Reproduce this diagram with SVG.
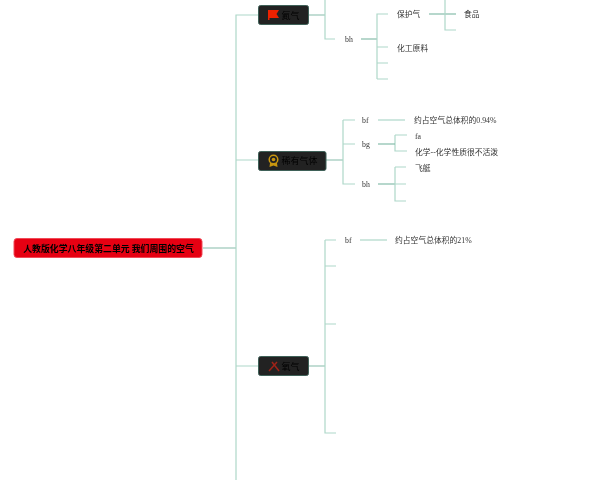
<svg xmlns="http://www.w3.org/2000/svg" width="600" height="480" viewBox="0 0 600 480">
<style>
.c{fill:none;stroke:#aed7c9;stroke-width:1.2}
.d{fill:none;stroke:#86bcaa;stroke-width:1.2}
.n{fill:#222;stroke:#3f6158;stroke-width:1}
text{font-family:"Liberation Serif","Noto Sans CJK SC",serif;font-size:7.800px;fill:#333}
.m{font-size:9px;fill:#000}
.r{font-family:"Noto Sans CJK SC",sans-serif;font-size:8.900px;fill:#000;font-weight:700}
</style>
<defs><filter id="g" filterUnits="userSpaceOnUse" x="0" y="0" width="600" height="480"><feOffset dx="0" dy="0"/></filter></defs>
<rect width="600" height="480" fill="#fff"/>
<g id="connectors">
<path class="d" d="M203 248H236"/>
<path class="c" d="M236 480V15H258M236 160H258M236 366H258"/>
<path class="d" d="M308 15H325M326 160H343M308 366H325"/>
<path class="c" d="M325 0V39H335"/>
<path class="d" d="M361 39H377"/>
<path class="c" d="M377 79V14H388M377 47H388M377 63H388M377 79H388"/>
<path class="d" d="M429 14H456"/>
<path class="c" d="M445 0V30H456"/>
<path class="c" d="M343 120V184H355M343 120H355M343 144H355"/>
<path class="c" d="M378 120H405"/>
<path class="c" d="M395 135V151H407M395 135H407"/>
<path class="d" d="M378 144H395"/>
<path class="d" d="M378 184H395"/>
<path class="c" d="M395 167V201H406M395 167H406M395 184H406"/>
<path class="c" d="M325 240V433H336M325 240H336M325 266H336M325 324H336"/>
<path class="c" d="M360 240H387"/>
</g>
<g filter="url(#g)">
<g id="root"><rect x="14" y="238.500" width="188" height="19" rx="3" fill="#e60012" stroke="#f04a58"/><text class="r" x="108.500" y="251.500" text-anchor="middle">人教版化学八年级第二单元 我们周围的空气</text></g>
<g id="n1"><rect class="n" x="258.500" y="5.500" width="50" height="19" rx="2"/><path d="M268 20V10H279L276.500 14L279 18H269.500V20Z" fill="#ee2200"/><text class="m" x="281.500" y="18.500">氮气</text></g>
<g id="n2"><rect class="n" x="258.500" y="151.500" width="67.500" height="19" rx="2"/><circle cx="273.500" cy="159.500" r="4.300" fill="none" stroke="#c8960f" stroke-width="1.500"/><circle cx="273.500" cy="159.500" r="1.800" fill="#c8960f"/><path d="M270 163L269.500 167L273.500 165.500L277.500 167L277 163Z" fill="#c8960f"/><text class="m" x="281.500" y="164">稀有气体</text></g>
<g id="n3"><rect class="n" x="258.500" y="356.500" width="50" height="19" rx="2"/><path d="M269 371L277 362M272 362L279 371" stroke="#9e2318" stroke-width="1.500" fill="none"/><text class="m" x="281.500" y="369.500">氧气</text></g>
<g id="l1"><text x="345" y="42">bh</text></g>
<g id="l2"><text x="397" y="17">保护气</text></g>
<g id="l3"><text x="397" y="50.500">化工原料</text></g>
<g id="l4"><text x="464" y="17">食品</text></g>
<g id="l5"><text x="362" y="123">bf</text></g>
<g id="l6"><text x="414" y="123">约占空气总体积的0.94%</text></g>
<g id="l7"><text x="362" y="147">bg</text></g>
<g id="l8"><text x="415" y="138.500">fa</text></g>
<g id="l9"><text x="415" y="154.500">化学--化学性质很不活泼</text></g>
<g id="l10"><text x="362" y="187">bh</text></g>
<g id="l11"><text x="415" y="171">飞艇</text></g>
<g id="l12"><text x="345" y="243">bf</text></g>
<g id="l13"><text x="395" y="243">约占空气总体积的21%</text></g>
</g>
</svg>
